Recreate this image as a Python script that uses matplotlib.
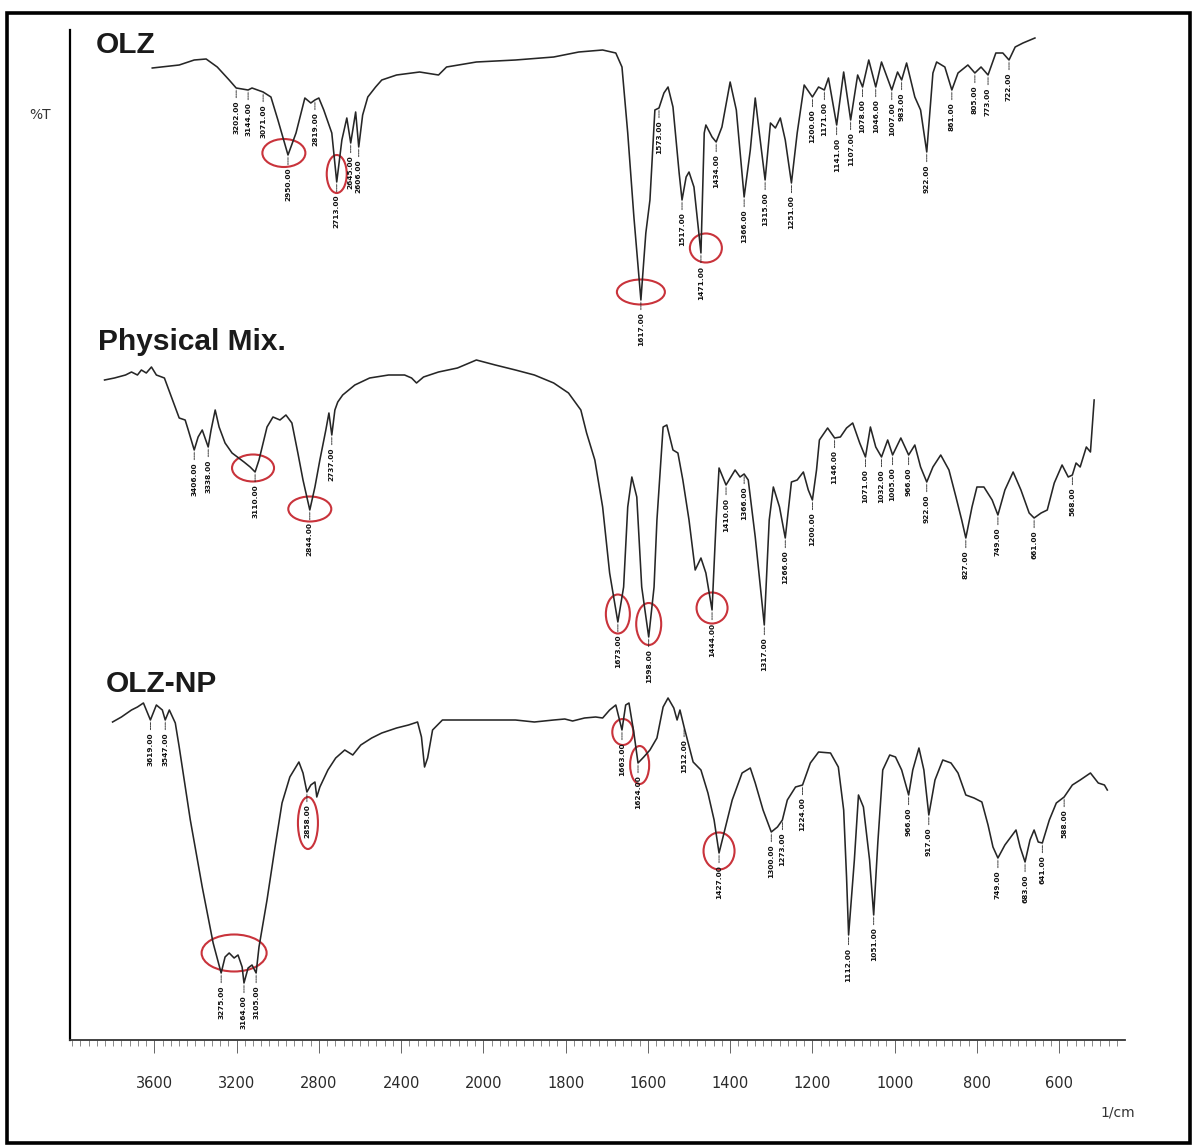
import numpy as np
import matplotlib

matplotlib.use("Agg")
import matplotlib.pyplot as plt
from matplotlib.patches import Ellipse, Rectangle
from matplotlib.transforms import ScaledTranslation


# wavenumber (1/cm) and stacked transmittance for each sample
OLZ_WN = [
    3610, 3479, 3406, 3348, 3294, 3236, 3202, 3144, 3125, 3071,
    3033, 2999, 2950, 2911, 2868, 2839, 2819, 2800, 2776, 2737,
    2713, 2688, 2664, 2645, 2621, 2606, 2587, 2562, 2524, 2494,
    2422, 2310, 2218, 2179, 2034, 1922, 1829, 1768, 1710, 1678,
    1663, 1649, 1634, 1617, 1605, 1595, 1583, 1573, 1561, 1551,
    1539, 1524, 1517, 1507, 1500, 1488, 1471, 1463, 1459, 1444,
    1434, 1420, 1400, 1385, 1366, 1351, 1339, 1329, 1315, 1302,
    1290, 1278, 1266, 1251, 1237, 1220, 1200, 1185, 1171, 1161,
    1141, 1124, 1107, 1090, 1078, 1063, 1046, 1032, 1007, 993,
    983, 971, 951, 937, 922, 907, 898, 878, 861, 846,
    822, 805, 790, 773, 754, 737, 722, 707, 688, 659,
]
OLZ_T = [
    97.2, 97.5, 98.0, 98.1, 97.3, 96.0, 95.2, 95.0, 95.2, 94.8,
    94.3, 92.0, 88.5, 90.7, 94.2, 93.7, 94.0, 94.2, 93.0, 90.7,
    85.8, 90.0, 92.2, 89.7, 92.8, 89.3, 92.5, 94.3, 95.3, 96.0,
    96.5, 96.8, 96.5, 97.3, 97.8, 98.0, 98.3, 98.8, 99.0, 98.7,
    97.3, 90.7, 82.3, 74.0, 80.7, 84.0, 93.0, 93.2, 94.7, 95.3,
    93.3, 86.7, 84.0, 86.3, 86.8, 85.3, 78.7, 90.7, 91.5, 90.3,
    89.8, 91.3, 95.8, 93.0, 84.3, 89.0, 94.2, 90.7, 86.0, 91.7,
    91.2, 92.2, 90.0, 85.7, 90.7, 95.5, 94.3, 95.3, 95.0, 96.2,
    91.5, 96.8, 92.0, 96.5, 95.3, 98.0, 95.3, 97.8, 95.0, 96.8,
    96.0, 97.7, 94.3, 93.0, 88.8, 96.7, 97.8, 97.3, 95.0, 96.7,
    97.5, 96.7, 97.3, 96.5, 98.7, 98.7, 98.0, 99.3, 99.7, 100.2,
]
OLZ_PEAKS = [3202, 3144, 3071, 2950, 2819, 2713, 2645, 2606, 1617, 1573,
             1517, 1471, 1434, 1366, 1315, 1251, 1200, 1171, 1141, 1107,
             1078, 1046, 1007, 983, 922, 861, 805, 773, 722]

MIX_WN = [
    3842, 3794, 3740, 3711, 3682, 3663, 3639, 3614, 3590, 3551,
    3517, 3479, 3450, 3435, 3406, 3387, 3367, 3338, 3324, 3304,
    3285, 3256, 3222, 3164, 3134, 3110, 3091, 3052, 3023, 2989,
    2960, 2931, 2902, 2877, 2844, 2819, 2795, 2766, 2751, 2737,
    2722, 2708, 2684, 2625, 2553, 2461, 2383, 2349, 2325, 2291,
    2218, 2126, 2034, 1971, 1922, 1876, 1829, 1793, 1763, 1749,
    1729, 1710, 1693, 1673, 1659, 1649, 1639, 1627, 1615, 1598,
    1585, 1578, 1563, 1554, 1539, 1527, 1515, 1500, 1485, 1471,
    1459, 1444, 1434, 1427, 1410, 1388, 1376, 1366, 1356, 1339,
    1317, 1305, 1295, 1280, 1266, 1251, 1237, 1222, 1210, 1200,
    1190, 1183, 1163, 1146, 1132, 1117, 1102, 1085, 1071, 1059,
    1046, 1032, 1017, 1005, 985, 966, 951, 937, 922, 907,
    888, 868, 851, 837, 827, 812, 800, 783, 763, 749,
    732, 712, 693, 673, 661, 644, 629, 612, 593, 578,
    568, 559, 549, 534, 524, 515,
]
MIX_T = [
    66.0, 66.2, 66.5, 66.8, 66.5, 67.0, 66.7, 67.3, 66.5, 66.2,
    64.3, 62.2, 62.0, 61.0, 59.0, 60.3, 61.0, 59.3, 61.0, 63.0,
    61.3, 59.7, 58.7, 57.8, 57.3, 56.8, 58.0, 61.3, 62.3, 62.0,
    62.5, 61.7, 58.7, 56.0, 53.0, 55.3, 58.0, 61.0, 62.7, 60.5,
    63.0, 63.8, 64.5, 65.5, 66.2, 66.5, 66.5, 66.2, 65.7, 66.3,
    66.8, 67.2, 68.0, 67.5, 67.0, 66.5, 65.7, 64.7, 63.0, 60.7,
    58.0, 53.3, 46.7, 41.8, 45.3, 53.3, 56.3, 54.3, 45.3, 40.3,
    45.3, 52.0, 61.3, 61.5, 59.0, 58.7, 56.0, 52.0, 47.0, 48.2,
    46.7, 43.0, 52.0, 57.2, 55.5, 57.0, 56.3, 56.6, 56.0, 50.3,
    41.5, 52.0, 55.3, 53.3, 50.2, 55.8, 56.0, 56.8, 55.0, 54.0,
    57.0, 60.0, 61.2, 60.2, 60.3, 61.2, 61.7, 59.7, 58.3, 61.3,
    59.3, 58.3, 60.0, 58.5, 60.2, 58.5, 59.5, 57.3, 55.8, 57.3,
    58.5, 57.0, 54.3, 52.0, 50.2, 53.3, 55.3, 55.3, 54.0, 52.5,
    55.0, 56.8, 55.0, 52.7, 52.2, 52.7, 53.0, 55.7, 57.5, 56.3,
    56.5, 57.7, 57.3, 59.3, 58.8, 64.0,
]
MIX_PEAKS = [3406, 3338, 3110, 2844, 2737, 1673, 1598, 1444, 1410, 1366,
             1317, 1266, 1200, 1146, 1071, 1032, 1005, 966, 922, 827,
             749, 661, 568]

NP_WN = [
    3803, 3760, 3711, 3682, 3653, 3639, 3619, 3590, 3561, 3547,
    3527, 3498, 3479, 3425, 3367, 3314, 3275, 3256, 3236, 3212,
    3193, 3173, 3164, 3144, 3125, 3105, 3091, 3052, 3013, 2979,
    2941, 2897, 2877, 2858, 2839, 2819, 2810, 2795, 2756, 2718,
    2674, 2635, 2596, 2543, 2494, 2422, 2364, 2320, 2301, 2286,
    2271, 2247, 2199, 2034, 1922, 1876, 1829, 1802, 1783, 1754,
    1727, 1710, 1693, 1678, 1663, 1654, 1646, 1634, 1624, 1610,
    1595, 1578, 1563, 1551, 1537, 1529, 1522, 1512, 1490, 1471,
    1454, 1439, 1427, 1415, 1395, 1371, 1351, 1339, 1320, 1300,
    1285, 1273, 1261, 1241, 1224, 1205, 1185, 1156, 1137, 1124,
    1117, 1112, 1098, 1088, 1076, 1061, 1051, 1041, 1029, 1012,
    998, 983, 966, 956, 941, 929, 917, 902, 883, 863,
    846, 827, 807, 788, 773, 761, 749, 732, 705, 695,
    683, 671, 661, 651, 641, 624, 607, 588, 568, 549,
    524, 505, 490, 483,
]
NP_T = [
    31.8, 32.3, 33.0, 33.3, 33.7, 33.0, 32.0, 33.5, 33.0, 32.0,
    33.0, 31.7, 29.3, 22.0, 15.3, 9.7, 6.7, 8.3, 8.7, 8.2,
    8.5, 7.3, 5.7, 7.2, 7.5, 6.7, 9.3, 14.0, 19.3, 23.7,
    26.3, 27.8, 26.7, 24.8, 25.5, 25.8, 24.3, 25.3, 27.0, 28.2,
    29.0, 28.5, 29.5, 30.2, 30.7, 31.2, 31.5, 31.8, 30.3, 27.3,
    28.2, 31.0, 32.0, 32.0, 32.0, 31.8, 32.0, 32.1, 31.9, 32.2,
    32.3, 32.2, 33.0, 33.5, 31.0, 33.5, 33.7, 30.7, 27.7, 28.3,
    29.0, 30.2, 33.3, 34.2, 33.2, 32.0, 33.0, 31.3, 27.8, 27.0,
    24.7, 22.0, 18.7, 20.7, 24.0, 26.7, 27.2, 25.7, 23.0, 20.8,
    21.3, 22.0, 24.0, 25.3, 25.5, 27.7, 28.8, 28.7, 27.3, 23.0,
    16.3, 10.5, 18.0, 24.5, 23.3, 18.0, 12.5, 19.7, 27.0, 28.5,
    28.3, 27.0, 24.5, 27.0, 29.2, 27.0, 22.5, 26.0, 28.0, 27.7,
    26.7, 24.5, 24.2, 23.8, 21.5, 19.3, 18.2, 19.5, 21.0, 19.3,
    17.8, 20.0, 21.0, 19.8, 19.7, 22.0, 23.7, 24.3, 25.5, 26.0,
    26.7, 25.7, 25.5, 25.0,
]
NP_PEAKS = [3619, 3547, 3275, 3164, 3105, 2858, 1663, 1624, 1512, 1427,
            1300, 1273, 1224, 1112, 1051, 966, 917, 749, 683, 641, 588]

SAMPLE_NAMES = ["OLZ", "Physical Mix.", "OLZ-NP"]
XTICKS = [3600, 3200, 2800, 2400, 2000, 1800, 1600, 1400, 1200, 1000, 800, 600]

NARROW = ["Liberation Sans Narrow", "DejaVu Sans"]
BOLD = ["Liberation Sans", "DejaVu Sans"]
LINE = "#262626"
RING = "#c9333b"


def forward(w):
    # the spectrometer halves the scale above 2000 1/cm
    w = np.asarray(w, dtype=float)
    return np.where(w > 2000, 2000 + (w - 2000) / 2, w)


def inverse(p):
    p = np.asarray(p, dtype=float)
    return np.where(p > 2000, 2000 + (p - 2000) * 2, p)


def value_at(wn, t, w):
    return float(np.interp(w, wn[::-1], t[::-1]))


W, H = 1195, 1148
fig = plt.figure(figsize=(W / 100, H / 100), dpi=100)
ax = fig.add_axes([70 / W, 108 / H, 1055 / W, 1010 / H])
ax.set_xscale("function", functions=(forward, inverse))
ax.set_xlim(4010, 440)
ax.set_ylim(0, 101)

spectra = [
    (np.array(OLZ_WN), np.array(OLZ_T), OLZ_PEAKS),
    (np.array(MIX_WN), np.array(MIX_T), MIX_PEAKS),
    (np.array(NP_WN), np.array(NP_T), NP_PEAKS),
]

for wn, t, peaks in spectra:
    ax.plot(wn, t, color=LINE, lw=1.15)
    for w in peaks:
        ax.annotate(
            f"{w:.2f}",
            xy=(w, value_at(wn, t, w)),
            xytext=(0, -9),
            textcoords="offset points",
            rotation=90,
            ha="center",
            va="top",
            fontsize=5.3,
            fontweight="bold",
            family=NARROW,
            color="#111111",
            arrowprops=dict(arrowstyle="-", lw=0.6, color="#222222",
                            shrinkA=0, shrinkB=1.5, linestyle=(0, (2, 1))),
        )

# circled bands: centre (1/cm, T) and ring size in pixels
rings = [
    (2970, 88.7, 43, 28), (2713, 86.6, 20, 38), (1617, 74.8, 48, 25), (1459, 79.2, 32, 29),
    (3120, 57.2, 42, 27), (2844, 53.1, 43, 25), (1673, 42.6, 24, 39), (1598, 41.6, 25, 42),
    (1444, 43.2, 31, 31),
    (3212, 8.7, 65, 37), (2853, 21.7, 20, 52), (1661, 30.8, 21, 26), (1620, 27.5, 19, 38),
    (1427, 18.9, 31, 37),
]
for w, t, rw, rh in rings:
    ring = Ellipse((0, 0), rw / 100, rh / 100, fill=False, ec=RING, lw=1.5,
                   transform=fig.dpi_scale_trans + ScaledTranslation(w, t, ax.transData))
    ax.add_patch(ring)

for side in ("top", "right"):
    ax.spines[side].set_visible(False)
ax.spines["left"].set_linewidth(1.6)
ax.spines["left"].set_color("black")
ax.spines["bottom"].set_linewidth(1.3)
ax.spines["bottom"].set_color("#333333")
ax.set_yticks([])

ax.set_xticks(XTICKS)
ax.set_xticklabels([str(v) for v in XTICKS])
ax.set_xticks(np.concatenate([np.arange(4000, 2000, -40), np.arange(2000, 440, -20)]), minor=True)
ax.tick_params(axis="x", which="major", direction="out", length=9, width=0.7,
               color="#666666", pad=17, labelsize=10.5, labelcolor="#2a2a2a")
ax.tick_params(axis="x", which="minor", direction="out", length=4, width=0.6, color="#777777")
for lbl in ax.get_xticklabels():
    lbl.set_family(NARROW)

title_pos = [(96, 53), (98, 350), (106, 692)]
for name, (px, py) in zip(SAMPLE_NAMES, title_pos):
    fig.text(px / W, 1 - py / H, name, fontsize=21.5, fontweight="bold",
             family=BOLD, color="#1a1a1a", va="baseline")

fig.text(29 / W, 1 - 115 / H, "%T", fontsize=10, family=NARROW, color="#333333", va="center")
fig.text(1118 / W, 1 - 1113 / H, "1/cm", fontsize=10, family=NARROW, color="#333333",
         ha="center", va="center")

fig.add_artist(Rectangle((7 / W, 5 / H), 1183 / W, 1130 / H, transform=fig.transFigure,
                         fill=False, lw=2.6, ec="black"))

fig.savefig("out.png", dpi=100)
